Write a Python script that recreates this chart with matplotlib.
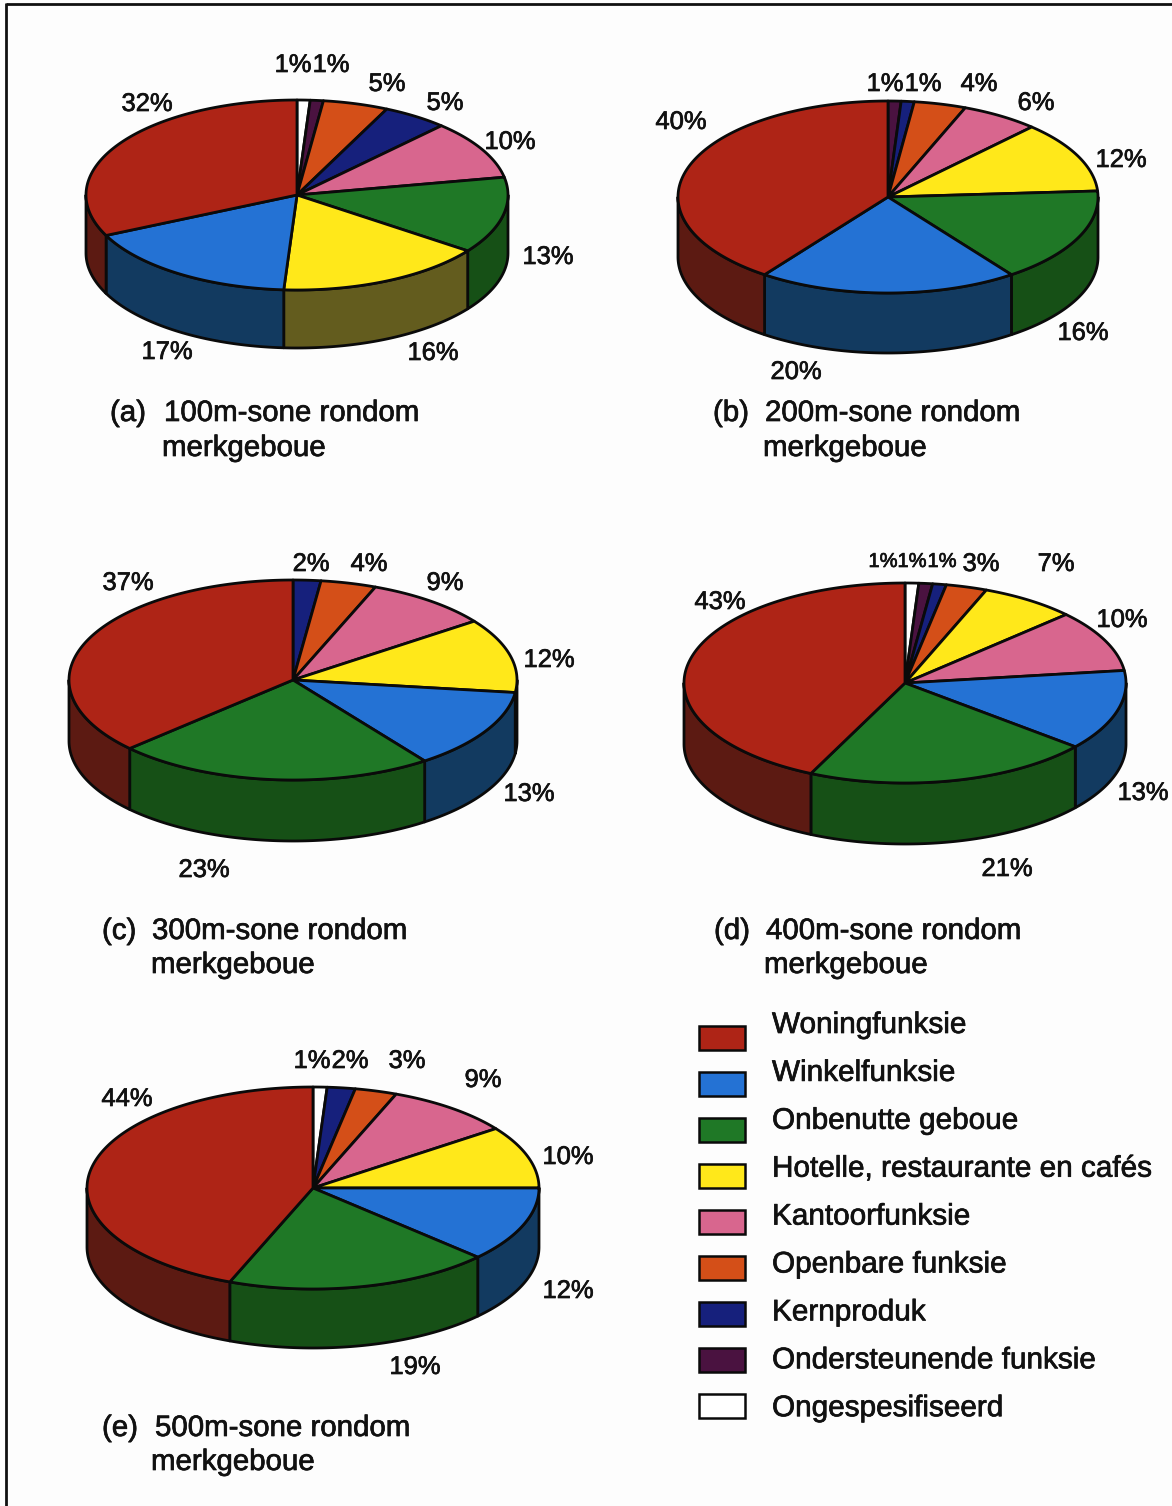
import numpy as np
import matplotlib
matplotlib.use("Agg")
import matplotlib.pyplot as plt
import matplotlib.patheffects as pe
from matplotlib.patches import Polygon, Rectangle

plt.rcParams['font.family'] = ['Liberation Sans', 'DejaVu Sans']

# 1. Land use categories, in legend order
categories = ["Woningfunksie", "Winkelfunksie", "Onbenutte geboue",
              "Hotelle, restaurante en cafés", "Kantoorfunksie", "Openbare funksie",
              "Kernproduk", "Ondersteunende funksie", "Ongespesifiseerd"]
top_colors = ["#AE2416", "#2472D4", "#1F7826", "#FFE81A", "#D8668E", "#D44F18",
              "#16207C", "#4A1240", "#FFFFFF"]
side_colors = ["#5C1A12", "#123A60", "#165016", "#635C1E", "#7A3A50", "#7A3010",
               "#0C1248", "#2A0A24", "#999999"]

# 2. Slices per zone, clockwise from twelve o'clock
order_a = [8, 7, 5, 6, 4, 2, 3, 1, 0]
values_a = [1, 1, 5, 5, 10, 13, 16, 17, 32]
order_b = [7, 6, 5, 4, 3, 2, 1, 0]
values_b = [1, 1, 4, 6, 12, 16, 20, 40]
order_c = [6, 5, 4, 3, 1, 2, 0]
values_c = [2, 4, 9, 12, 13, 23, 37]
order_d = [8, 7, 6, 5, 3, 4, 1, 2, 0]
values_d = [1, 1, 1, 3, 7, 10, 13, 21, 43]
order_e = [8, 6, 5, 4, 3, 1, 2, 0]
values_e = [1, 2, 3, 9, 10, 12, 19, 44]

# 3. Layout in pixels: pie centre, radii, depth, then percentage label centres
pies = [
    (order_a, values_a, (297, 195), 211, 95, 58,
     [(293, 63), (331, 63), (387, 82), (445, 101), (510, 140), (548, 255), (433, 351), (167, 350), (147, 102)]),
    (order_b, values_b, (888, 197), 210, 96, 60,
     [(885, 82), (923, 82), (979, 82), (1036, 101), (1121, 158), (1083, 331), (796, 370), (681, 120)]),
    (order_c, values_c, (293, 680), 224, 100, 61,
     [(311, 562), (369, 562), (445, 581), (549, 658), (529, 792), (204, 868), (128, 581)]),
    (order_d, values_d, (905, 683), 221, 100, 61,
     [(883, 560), (912, 560), (942, 560), (981, 562), (1056, 562), (1122, 618), (1143, 791), (1007, 867), (720, 600)]),
    (order_e, values_e, (313, 1188), 226, 101, 59,
     [(312, 1059), (350, 1059), (407, 1059), (483, 1078), (568, 1155), (568, 1289), (415, 1365), (127, 1097)]),
]

captions = [
    ("(a)", "100m-sone rondom", 110, 164, 162, 421, 456),
    ("(b)", "200m-sone rondom", 713, 765, 763, 421, 456),
    ("(c)", "300m-sone rondom", 102, 152, 151, 939, 973),
    ("(d)", "400m-sone rondom", 714, 766, 764, 939, 973),
    ("(e)", "500m-sone rondom", 102, 155, 151, 1436, 1470),
]

fig = plt.figure(figsize=(11.72, 15.06), dpi=100, facecolor="#FDFDFD")
ax = fig.add_axes([0, 0, 1, 1])
ax.set_xlim(0, 1172)
ax.set_ylim(1506, 0)
ax.axis("off")

EDGE = "#0A0A0A"
LW = 2.0
INK = "#111111"
# scanned type prints a little heavier than the plain font
heavy = [pe.withStroke(linewidth=0.5, foreground=INK)]


def rim(center, rx, ry, t0, t1):
    # points along the ellipse, angle measured clockwise from the top
    t = np.linspace(t0, t1, max(2, int(abs(t1 - t0) * 80)))
    return np.column_stack([center[0] + rx * np.sin(t), center[1] - ry * np.cos(t)])


def draw_pie(order, values, center, rx, ry, depth, label_pos):
    edges = 2 * np.pi * np.cumsum([0] + values) / sum(values)

    # side wall first: only the front half of the rim is visible
    for k, cat in enumerate(order):
        t0 = max(edges[k], np.pi / 2)
        t1 = min(edges[k + 1], 3 * np.pi / 2)
        if t1 <= t0:
            continue
        upper = rim(center, rx, ry, t0, t1)
        lower = upper[::-1] + [0, depth]
        ax.add_patch(Polygon(np.vstack([upper, lower]), closed=True, facecolor=side_colors[cat],
                             edgecolor=EDGE, linewidth=LW, joinstyle="round"))

    # top face
    for k, cat in enumerate(order):
        arc = rim(center, rx, ry, edges[k], edges[k + 1])
        ax.add_patch(Polygon(np.vstack([[center], arc]), closed=True, facecolor=top_colors[cat],
                             edgecolor=EDGE, linewidth=LW, joinstyle="round"))

    # percentage labels, the three tight ones in the 400m pie are smaller
    small = values is values_d
    for k, (x, y) in enumerate(label_pos):
        size = 14.5 if small and k < 3 else 18.4
        offset = 7 if small and k < 3 else 9
        ax.text(x, y + offset, f"{values[k]}%", fontsize=size, color=INK,
                ha="center", va="baseline", path_effects=heavy)


for pie in pies:
    draw_pie(*pie)

# 4. Captions under each pie
for tag, first, x_tag, x_first, x_second, y_first, y_second in captions:
    ax.text(x_tag, y_first, tag, fontsize=21.2, color=INK, va="baseline", path_effects=heavy)
    ax.text(x_first, y_first, first, fontsize=21.2, color=INK, va="baseline", path_effects=heavy)
    ax.text(x_second, y_second, "merkgeboue", fontsize=21.2, color=INK, va="baseline", path_effects=heavy)

# 5. Legend
for i, name in enumerate(categories):
    y = 1026 + i * 46
    ax.add_patch(Rectangle((699, y), 46, 24, facecolor=top_colors[i], edgecolor=EDGE, linewidth=1.8))
    ax.text(772, 1033 + i * 47.9, name, fontsize=21.4, color=INK, va="baseline", path_effects=heavy)

# 6. Frame lines on the top and left
ax.plot([6, 1172], [4, 4], color=INK, linewidth=2, solid_capstyle="butt")
ax.plot([6, 6], [3, 1506], color=INK, linewidth=2, solid_capstyle="butt")

fig.savefig("out.png", dpi=100, facecolor=fig.get_facecolor())
